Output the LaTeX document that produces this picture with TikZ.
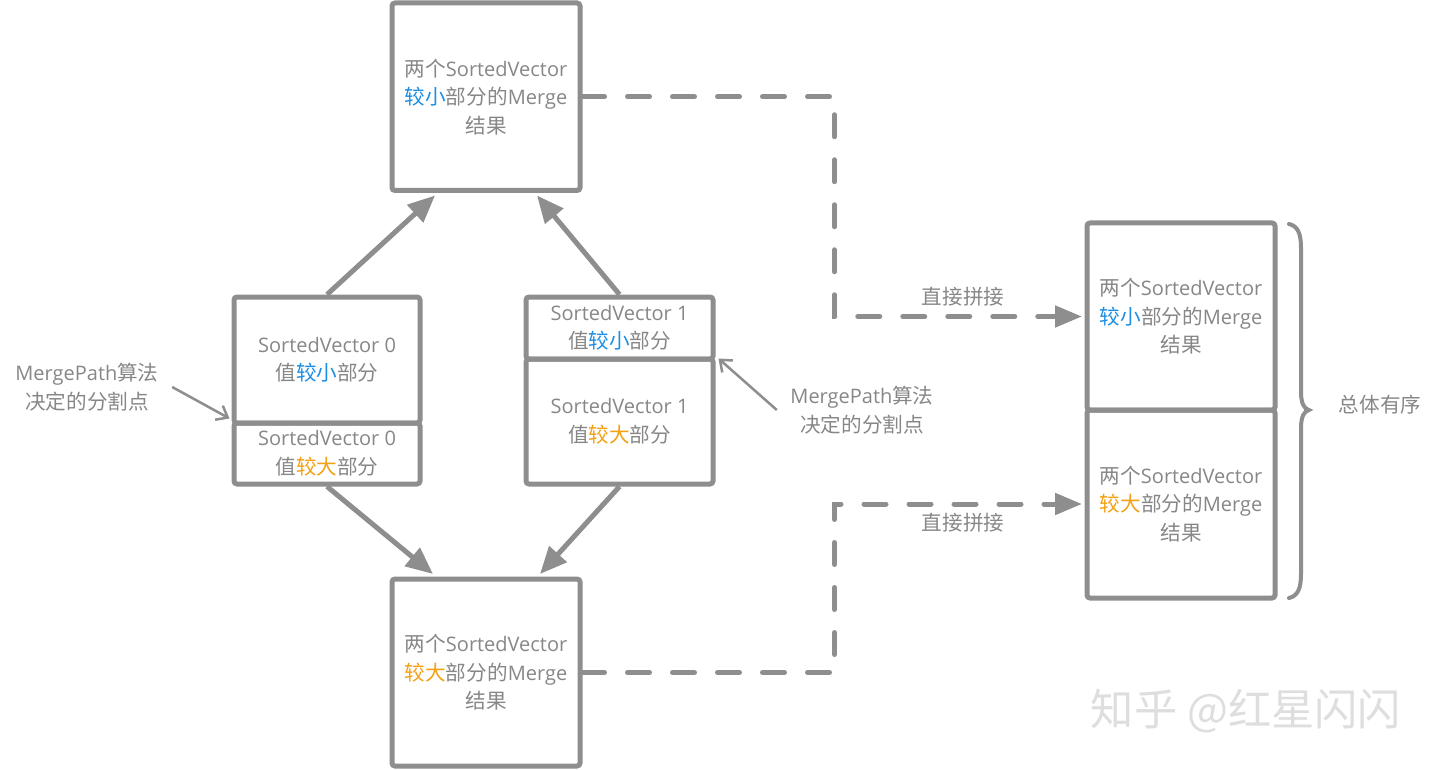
\documentclass[tikz,border=0pt]{standalone}
\usepackage{fontspec}
\setmainfont{Noto Sans CJK SC}[Scale=1.03]
\newfontfamily\enfont{Open Sans}
\usetikzlibrary{arrows.meta}
\definecolor{lg}{RGB}{142,142,142}
\definecolor{tg}{RGB}{135,135,135}
\definecolor{bl}{RGB}{28,142,228}
\definecolor{og}{RGB}{243,160,18}
\newcommand{\En}[1]{{\enfont #1}}
\newcommand{\Bl}[1]{\textcolor{bl}{#1}}
\newcommand{\Og}[1]{\textcolor{og}{#1}}
\begin{document}
\begin{tikzpicture}[x=1pt,y=-1pt,
  every node/.style={font=\fontsize{20}{28.5}\selectfont, text=tg, align=center},
  box/.style={draw=lg, line width=5pt, rounded corners=3pt, inner sep=0pt},
  conn/.style={draw=lg, line width=5pt, -{Triangle[length=27pt,width=23pt]}},
  dline/.style={draw=lg, line width=5pt, line cap=round, dash pattern=on 22pt off 23pt, -{Triangle[length=27pt,width=21pt]}},
  note/.style={draw=lg, line width=2.5pt, -{Straight Barb[length=10pt,width=16pt]}},
]
\fill[white] (0,0) rectangle (1440,770);
\useasboundingbox (0,0) rectangle (1440,770);

% merge result boxes
\node[box, minimum width=188pt, minimum height=187.5pt] (top) at (486,96.75)
  {两个\En{SortedVector}\\\Bl{较小}部分的\En{Merge}\\结果};
\node[box, minimum width=188pt, minimum height=187pt] (bot) at (486,672.5)
  {两个\En{SortedVector}\\\Og{较大}部分的\En{Merge}\\结果};

% sorted vector 0
\node[box, minimum width=186pt, minimum height=126pt] (sv0a) at (327,360)
  {\En{SortedVector 0}\\值\Bl{较小}部分};
\node[box, minimum width=186pt, minimum height=61pt] (sv0b) at (327,453.5)
  {\En{SortedVector 0}\\值\Og{较大}部分};

% sorted vector 1
\node[box, minimum width=187pt, minimum height=62pt] (sv1a) at (619.5,328)
  {\En{SortedVector 1}\\值\Bl{较小}部分};
\node[box, minimum width=187pt, minimum height=125pt] (sv1b) at (619.5,421.5)
  {\En{SortedVector 1}\\值\Og{较大}部分};

% final result
\node[box, minimum width=188pt, minimum height=187pt] (r1) at (1181,316.5)
  {两个\En{SortedVector}\\\Bl{较小}部分的\En{Merge}\\结果};
\node[box, minimum width=188pt, minimum height=188pt] (r2) at (1181,504)
  {两个\En{SortedVector}\\\Og{较大}部分的\En{Merge}\\结果};

% solid arrows
\draw[conn] (sv0a.north) -- ([xshift=-51pt,yshift=-2.5pt]top.south);
\draw[conn] (sv1a.north) -- ([xshift=51pt,yshift=-2.5pt]top.south);
\draw[conn] (sv0b.south) -- ([xshift=-53pt,yshift=2.5pt]bot.north);
\draw[conn] (sv1b.south) -- ([xshift=54pt,yshift=2.5pt]bot.north);

% dashed arrows
\draw[dline] (top.east) -- ++(252,0) |- ([xshift=-2.5pt]r1.west);
\draw[dline] (bot.east) -- ++(252,0) |- ([xshift=-2.5pt]r2.west);
\node (l1) at (963,297) {直接拼接};
\node (l2) at (963,523) {直接拼接};

% annotations
\node (n1) at (87,387) {\En{MergePath}算法\\决定的分割点};
\node (n2) at (862,410) {\En{MergePath}算法\\决定的分割点};
\draw[note] ([xshift=10pt]n1.east) -- ([xshift=-2pt,yshift=2pt]sv0b.north west);
\draw[note] ([xshift=-10pt]n2.west) -- ([xshift=3pt,yshift=-2pt]sv1b.north east);

% brace
\draw[lg, line width=4pt, line cap=round]
  (1289,224) .. controls (1298,226) and (1301,234) .. (1301,248)
  -- (1301,392) .. controls (1301,403) and (1304,409) .. (1309,410)
  .. controls (1304,411) and (1301,417) .. (1301,428)
  -- (1301,574) .. controls (1301,588) and (1298,596) .. (1289,598);
\node (tot) at (1380,405) {总体有序};

% watermark
\node[text=black!13, font=\fontsize{42}{42}\selectfont] (wm) at (1246,711) {知乎 @红星闪闪};
\end{tikzpicture}
\end{document}
